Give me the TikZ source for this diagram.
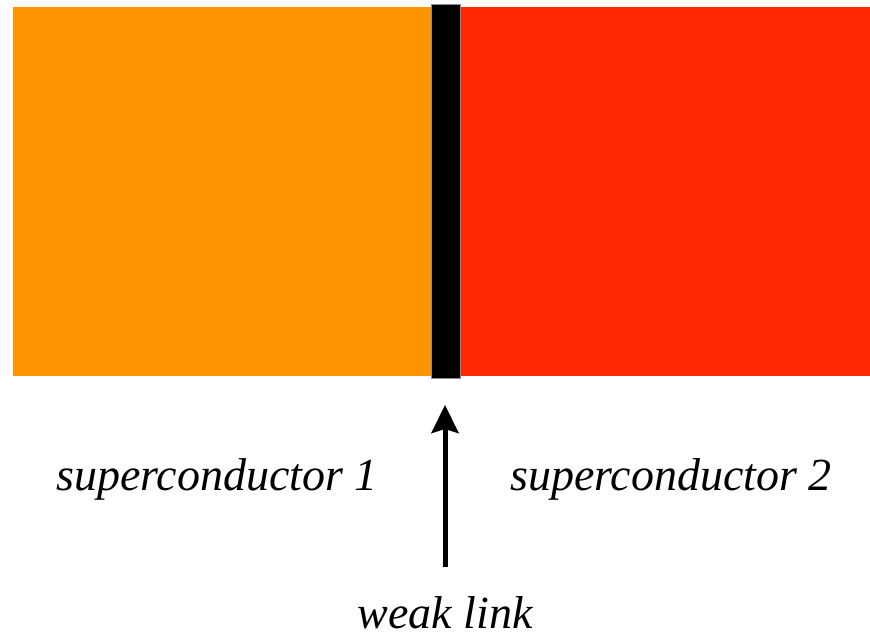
\documentclass[tikz,border=0pt]{standalone}
\usepackage{fontspec}
\setmainfont{Liberation Serif}
\usetikzlibrary{arrows.meta}
\definecolor{scone}{HTML}{FF9300}
\definecolor{sctwo}{HTML}{FF2900}
\tikzset{
  block/.style={draw=none, inner sep=0pt, anchor=north west},
  label/.style={font=\fontsize{46}{52}\selectfont\itshape, inner sep=0pt, anchor=base},
  pointer/.style={line width=5pt, -{Stealth[length=28pt,width=27pt,inset=4pt]}}
}
\begin{document}
\begin{tikzpicture}[x=1pt,y=-1pt]
  \useasboundingbox (0,0) rectangle (870,639);
  % the two superconducting blocks
  \node[block, fill=scone, minimum width=419pt, minimum height=369pt] (sc1) at (13,7) {};
  \node[block, fill=sctwo, minimum width=409pt, minimum height=369pt] (sc2) at (461,7) {};
  % the barrier between them
  \node[block, fill=black, draw=black!45, line width=0.8pt, minimum width=29pt, minimum height=373pt] (barrier) at (430.5,4.5) {};
  % labels
  \node[label] (l1) at (217,490) {superconductor 1};
  \node[label] (l2) at (671,490) {superconductor 2};
  \node[label] (wl) at (445,628) {weak link};
  % pointer to the barrier
  \coordinate (tail) at (445,567);
  \coordinate (tip) at (445,405);
  \draw[pointer] (tail) -- (tip);
\end{tikzpicture}
\end{document}
